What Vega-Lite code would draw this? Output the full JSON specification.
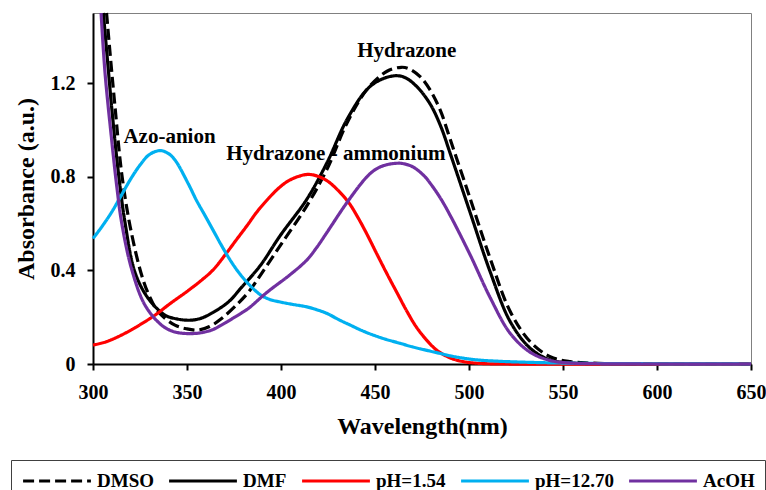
{
  "$schema": "https://vega.github.io/schema/vega-lite/v6.json",
  "autosize": {"type": "none"},
  "padding": {"left": 93, "top": 13, "right": 15, "bottom": 126},
  "width": 658,
  "height": 351,
  "background": "white",
  "datasets": {
    "spectra": [
      {"s": "DMSO", "x": 307.2, "y": 1.5}, {"s": "DMSO", "x": 309.5, "y": 1.29}, {"s": "DMSO", "x": 311.7, "y": 1.1}, {"s": "DMSO", "x": 315.2, "y": 0.818}, {"s": "DMSO", "x": 319.7, "y": 0.59}, {"s": "DMSO", "x": 325.9, "y": 0.379}, {"s": "DMSO", "x": 330, "y": 0.29}, {"s": "DMSO", "x": 334.7, "y": 0.223}, {"s": "DMSO", "x": 343.6, "y": 0.166}, {"s": "DMSO", "x": 350, "y": 0.15}, {"s": "DMSO", "x": 356, "y": 0.145}, {"s": "DMSO", "x": 362, "y": 0.16}, {"s": "DMSO", "x": 368.4, "y": 0.194}, {"s": "DMSO", "x": 377.3, "y": 0.26}, {"s": "DMSO", "x": 383, "y": 0.31}, {"s": "DMSO", "x": 389, "y": 0.379}, {"s": "DMSO", "x": 399.6, "y": 0.506}, {"s": "DMSO", "x": 413.8, "y": 0.677}, {"s": "DMSO", "x": 424.5, "y": 0.833}, {"s": "DMSO", "x": 435.1, "y": 1.03}, {"s": "DMSO", "x": 445.7, "y": 1.173}, {"s": "DMSO", "x": 456.4, "y": 1.251}, {"s": "DMSO", "x": 464, "y": 1.268}, {"s": "DMSO", "x": 468, "y": 1.262}, {"s": "DMSO", "x": 474, "y": 1.228}, {"s": "DMSO", "x": 479.4, "y": 1.17}, {"s": "DMSO", "x": 484.7, "y": 1.085}, {"s": "DMSO", "x": 490, "y": 0.96}, {"s": "DMSO", "x": 500.7, "y": 0.705}, {"s": "DMSO", "x": 511.3, "y": 0.45}, {"s": "DMSO", "x": 522, "y": 0.223}, {"s": "DMSO", "x": 532.6, "y": 0.095}, {"s": "DMSO", "x": 543.2, "y": 0.031}, {"s": "DMSO", "x": 553.9, "y": 0.01}, {"s": "DMSO", "x": 564.5, "y": 0.004}, {"s": "DMSO", "x": 580, "y": 0.001}, {"s": "DMSO", "x": 600, "y": 0}, {"s": "DMSO", "x": 650, "y": 0},
      {"s": "DMF", "x": 305.5, "y": 1.5}, {"s": "DMF", "x": 307.8, "y": 1.29}, {"s": "DMF", "x": 309.9, "y": 1.1}, {"s": "DMF", "x": 313.5, "y": 0.818}, {"s": "DMF", "x": 317, "y": 0.606}, {"s": "DMF", "x": 322.3, "y": 0.393}, {"s": "DMF", "x": 329.4, "y": 0.28}, {"s": "DMF", "x": 338.3, "y": 0.209}, {"s": "DMF", "x": 345, "y": 0.192}, {"s": "DMF", "x": 351, "y": 0.187}, {"s": "DMF", "x": 356, "y": 0.192}, {"s": "DMF", "x": 361.3, "y": 0.209}, {"s": "DMF", "x": 372, "y": 0.265}, {"s": "DMF", "x": 378.4, "y": 0.322}, {"s": "DMF", "x": 389, "y": 0.421}, {"s": "DMF", "x": 399.6, "y": 0.549}, {"s": "DMF", "x": 413.8, "y": 0.705}, {"s": "DMF", "x": 424.5, "y": 0.861}, {"s": "DMF", "x": 435.1, "y": 1.045}, {"s": "DMF", "x": 445.7, "y": 1.173}, {"s": "DMF", "x": 453, "y": 1.215}, {"s": "DMF", "x": 461, "y": 1.232}, {"s": "DMF", "x": 466, "y": 1.224}, {"s": "DMF", "x": 472.3, "y": 1.185}, {"s": "DMF", "x": 479.4, "y": 1.11}, {"s": "DMF", "x": 485, "y": 1.015}, {"s": "DMF", "x": 490, "y": 0.9}, {"s": "DMF", "x": 500.7, "y": 0.645}, {"s": "DMF", "x": 511.3, "y": 0.393}, {"s": "DMF", "x": 522, "y": 0.18}, {"s": "DMF", "x": 532.6, "y": 0.067}, {"s": "DMF", "x": 543.2, "y": 0.017}, {"s": "DMF", "x": 553.9, "y": 0.005}, {"s": "DMF", "x": 570, "y": 0.001}, {"s": "DMF", "x": 600, "y": 0}, {"s": "DMF", "x": 650, "y": 0},
      {"s": "pH=1.54", "x": 300, "y": 0.081}, {"s": "pH=1.54", "x": 307, "y": 0.095}, {"s": "pH=1.54", "x": 315, "y": 0.123}, {"s": "pH=1.54", "x": 324, "y": 0.163}, {"s": "pH=1.54", "x": 333, "y": 0.209}, {"s": "pH=1.54", "x": 341, "y": 0.258}, {"s": "pH=1.54", "x": 350, "y": 0.31}, {"s": "pH=1.54", "x": 358, "y": 0.36}, {"s": "pH=1.54", "x": 364, "y": 0.403}, {"s": "pH=1.54", "x": 371, "y": 0.474}, {"s": "pH=1.54", "x": 376, "y": 0.528}, {"s": "pH=1.54", "x": 382, "y": 0.592}, {"s": "pH=1.54", "x": 387, "y": 0.648}, {"s": "pH=1.54", "x": 392.5, "y": 0.7}, {"s": "pH=1.54", "x": 398, "y": 0.746}, {"s": "pH=1.54", "x": 403, "y": 0.778}, {"s": "pH=1.54", "x": 408, "y": 0.798}, {"s": "pH=1.54", "x": 414, "y": 0.81}, {"s": "pH=1.54", "x": 419, "y": 0.804}, {"s": "pH=1.54", "x": 424.5, "y": 0.783}, {"s": "pH=1.54", "x": 430, "y": 0.745}, {"s": "pH=1.54", "x": 436, "y": 0.69}, {"s": "pH=1.54", "x": 441, "y": 0.625}, {"s": "pH=1.54", "x": 445.7, "y": 0.555}, {"s": "pH=1.54", "x": 451, "y": 0.47}, {"s": "pH=1.54", "x": 456.4, "y": 0.385}, {"s": "pH=1.54", "x": 462, "y": 0.3}, {"s": "pH=1.54", "x": 467, "y": 0.225}, {"s": "pH=1.54", "x": 472, "y": 0.158}, {"s": "pH=1.54", "x": 477.7, "y": 0.1}, {"s": "pH=1.54", "x": 483, "y": 0.058}, {"s": "pH=1.54", "x": 490, "y": 0.026}, {"s": "pH=1.54", "x": 497, "y": 0.01}, {"s": "pH=1.54", "x": 505, "y": 0.003}, {"s": "pH=1.54", "x": 520, "y": 0}, {"s": "pH=1.54", "x": 650, "y": 0},
      {"s": "pH=12.70", "x": 300, "y": 0.536}, {"s": "pH=12.70", "x": 305, "y": 0.59}, {"s": "pH=12.70", "x": 310, "y": 0.65}, {"s": "pH=12.70", "x": 315, "y": 0.72}, {"s": "pH=12.70", "x": 320, "y": 0.79}, {"s": "pH=12.70", "x": 325, "y": 0.85}, {"s": "pH=12.70", "x": 330, "y": 0.895}, {"s": "pH=12.70", "x": 335.6, "y": 0.912}, {"s": "pH=12.70", "x": 340, "y": 0.9}, {"s": "pH=12.70", "x": 343.6, "y": 0.872}, {"s": "pH=12.70", "x": 350.7, "y": 0.77}, {"s": "pH=12.70", "x": 355, "y": 0.7}, {"s": "pH=12.70", "x": 359.6, "y": 0.634}, {"s": "pH=12.70", "x": 364, "y": 0.57}, {"s": "pH=12.70", "x": 368.4, "y": 0.506}, {"s": "pH=12.70", "x": 373.7, "y": 0.435}, {"s": "pH=12.70", "x": 378.4, "y": 0.382}, {"s": "pH=12.70", "x": 383.7, "y": 0.334}, {"s": "pH=12.70", "x": 389, "y": 0.296}, {"s": "pH=12.70", "x": 394, "y": 0.276}, {"s": "pH=12.70", "x": 399.6, "y": 0.265}, {"s": "pH=12.70", "x": 406, "y": 0.255}, {"s": "pH=12.70", "x": 413.8, "y": 0.244}, {"s": "pH=12.70", "x": 419, "y": 0.232}, {"s": "pH=12.70", "x": 424.5, "y": 0.216}, {"s": "pH=12.70", "x": 430.6, "y": 0.19}, {"s": "pH=12.70", "x": 436.9, "y": 0.166}, {"s": "pH=12.70", "x": 443, "y": 0.143}, {"s": "pH=12.70", "x": 449.3, "y": 0.123}, {"s": "pH=12.70", "x": 456, "y": 0.105}, {"s": "pH=12.70", "x": 463.5, "y": 0.088}, {"s": "pH=12.70", "x": 470, "y": 0.073}, {"s": "pH=12.70", "x": 477.7, "y": 0.058}, {"s": "pH=12.70", "x": 484.7, "y": 0.045}, {"s": "pH=12.70", "x": 490, "y": 0.035}, {"s": "pH=12.70", "x": 497, "y": 0.025}, {"s": "pH=12.70", "x": 505, "y": 0.017}, {"s": "pH=12.70", "x": 515, "y": 0.012}, {"s": "pH=12.70", "x": 532.6, "y": 0.007}, {"s": "pH=12.70", "x": 550, "y": 0.004}, {"s": "pH=12.70", "x": 570, "y": 0.002}, {"s": "pH=12.70", "x": 600, "y": 0.001}, {"s": "pH=12.70", "x": 650, "y": 0},
      {"s": "AcOH", "x": 304.3, "y": 1.5}, {"s": "AcOH", "x": 306.4, "y": 1.244}, {"s": "AcOH", "x": 309.9, "y": 0.96}, {"s": "AcOH", "x": 312.6, "y": 0.762}, {"s": "AcOH", "x": 315.2, "y": 0.606}, {"s": "AcOH", "x": 320.5, "y": 0.407}, {"s": "AcOH", "x": 327.7, "y": 0.251}, {"s": "AcOH", "x": 336.5, "y": 0.166}, {"s": "AcOH", "x": 343, "y": 0.138}, {"s": "AcOH", "x": 350.7, "y": 0.13}, {"s": "AcOH", "x": 357, "y": 0.133}, {"s": "AcOH", "x": 363.1, "y": 0.145}, {"s": "AcOH", "x": 368, "y": 0.165}, {"s": "AcOH", "x": 373.7, "y": 0.192}, {"s": "AcOH", "x": 378.4, "y": 0.215}, {"s": "AcOH", "x": 382.6, "y": 0.237}, {"s": "AcOH", "x": 392.5, "y": 0.306}, {"s": "AcOH", "x": 404.9, "y": 0.382}, {"s": "AcOH", "x": 413.8, "y": 0.445}, {"s": "AcOH", "x": 419, "y": 0.498}, {"s": "AcOH", "x": 424.5, "y": 0.563}, {"s": "AcOH", "x": 435.1, "y": 0.69}, {"s": "AcOH", "x": 445.7, "y": 0.8}, {"s": "AcOH", "x": 451, "y": 0.835}, {"s": "AcOH", "x": 456.4, "y": 0.852}, {"s": "AcOH", "x": 462, "y": 0.858}, {"s": "AcOH", "x": 465.2, "y": 0.856}, {"s": "AcOH", "x": 470, "y": 0.843}, {"s": "AcOH", "x": 475.9, "y": 0.806}, {"s": "AcOH", "x": 479.4, "y": 0.772}, {"s": "AcOH", "x": 484.7, "y": 0.71}, {"s": "AcOH", "x": 490, "y": 0.635}, {"s": "AcOH", "x": 500.7, "y": 0.465}, {"s": "AcOH", "x": 511.3, "y": 0.283}, {"s": "AcOH", "x": 522, "y": 0.13}, {"s": "AcOH", "x": 532.6, "y": 0.05}, {"s": "AcOH", "x": 543.2, "y": 0.015}, {"s": "AcOH", "x": 553.9, "y": 0.004}, {"s": "AcOH", "x": 570, "y": 0.001}, {"s": "AcOH", "x": 600, "y": 0}, {"s": "AcOH", "x": 650, "y": 0}
    ],
    "notes": [
      {"t": "Azo-anion", "x": 340.7, "y": 0.945},
      {"t": "Hydrazone - ammonium", "x": 429.2, "y": 0.872},
      {"t": "Hydrazone", "x": 466.9, "y": 1.313}
    ]
  },
  "encoding": {
    "x": {
      "field": "x", "type": "quantitative",
      "scale": {"domain": [300, 650], "nice": false, "zero": false},
      "axis": {"values": [300, 350, 400, 450, 500, 550, 600, 650], "title": "Wavelength(nm)", "labelFlush": false}
    },
    "y": {
      "field": "y", "type": "quantitative",
      "scale": {"domain": [0, 1.5], "nice": false, "zero": false},
      "axis": {"values": [0, 0.4, 0.8, 1.2], "title": "Absorbance (a.u.)", "format": "~g", "labelFlush": false}
    }
  },
  "layer": [
    {
      "data": {"name": "notes"},
      "mark": {"type": "text", "font": "Liberation Serif", "fontWeight": "bold", "fontSize": 21, "align": "center", "baseline": "alphabetic", "color": "#000"},
      "encoding": {
        "text": {"field": "t"}
      }
    },
    {
      "data": {"name": "spectra"},
      "mark": {"type": "line", "strokeWidth": 3.2, "interpolate": "catmull-rom"},
      "encoding": {
        "color": {
          "field": "s", "type": "nominal",
          "scale": {"domain": ["DMSO", "DMF", "pH=1.54", "pH=12.70", "AcOH"], "range": ["#000000", "#000000", "#FF0000", "#00B0F0", "#7030A0"]},
          "legend": {"title": null, "orient": "none", "legendX": -82, "legendY": 447, "direction": "horizontal", "columns": 5}
        },
        "strokeDash": {
          "field": "s", "type": "nominal",
          "scale": {"domain": ["DMSO", "DMF", "pH=1.54", "pH=12.70", "AcOH"], "range": [[11, 5], [1, 0], [1, 0], [1, 0], [1, 0]]},
          "legend": {"title": null, "orient": "none", "legendX": -82, "legendY": 447, "direction": "horizontal", "columns": 5}
        },
        "order": {"field": "x", "type": "quantitative"}
      }
    }
  ],
  "config": {
    "view": {"stroke": "#808080", "strokeWidth": 1},
    "axis": {
      "grid": false,
      "domainColor": "#000", "domainWidth": 2,
      "tickColor": "#000", "tickWidth": 2, "tickSize": 6,
      "labelFont": "Liberation Serif", "labelFontWeight": "bold", "labelFontSize": 20, "labelColor": "#000", "labelPadding": 12,
      "titleFont": "Liberation Serif", "titleFontWeight": "bold", "titleFontSize": 24, "titleColor": "#000", "titlePadding": 12
    },
    "legend": {
      "symbolType": "stroke", "symbolSize": 4600, "symbolStrokeWidth": 3.2,
      "labelFont": "Liberation Serif", "labelFontWeight": "bold", "labelFontSize": 19, "labelColor": "#000",
      "labelOffset": 4, "columnPadding": 13, "labelLimit": 0,
      "strokeColor": "#404040", "strokeWidth": 1, "padding": 10, "clipHeight": 22
    }
  }
}
